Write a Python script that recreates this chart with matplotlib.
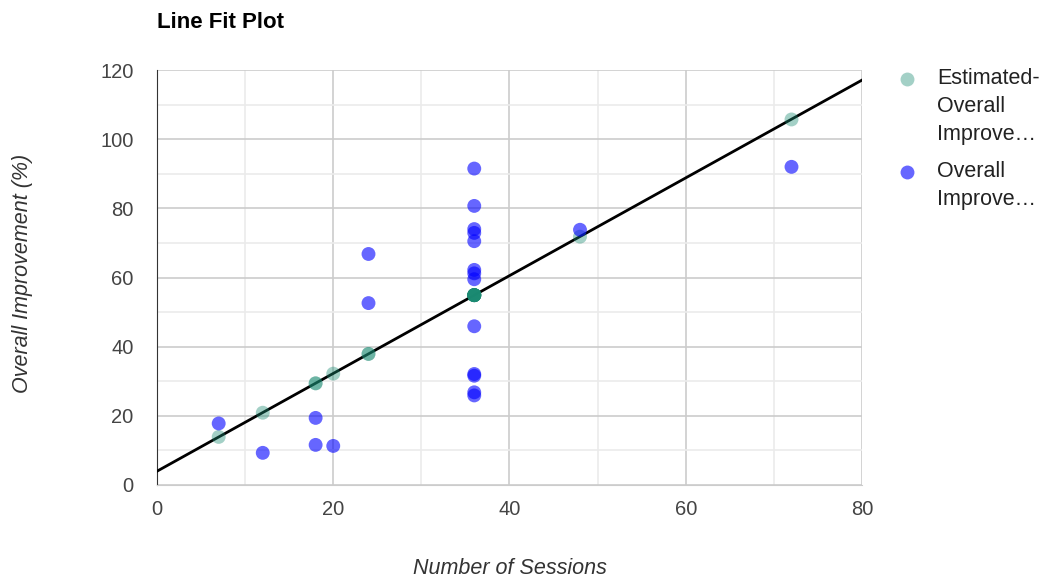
import matplotlib
matplotlib.use("Agg")
import matplotlib.pyplot as plt
from matplotlib.lines import Line2D
import numpy as np

plt.rcParams['font.family'] = ['Liberation Sans', 'DejaVu Sans']

# sessions and observed improvement (%)
sessions = [7, 12, 18, 18, 20, 24, 24,
            36, 36, 36, 36, 36, 36, 36, 36, 36, 36, 36, 36, 36,
            48, 72]
improvement = [17.8, 9.3, 19.4, 11.6, 11.3, 66.8, 52.6,
               91.5, 80.7, 74.0, 72.9, 70.5, 62.2, 61.2, 59.5, 45.9, 32.1, 31.6, 26.8, 25.9,
               73.8, 92.0]

# estimated values from the fit, one per observed point
estimated = [13.9, 20.9, 29.4, 29.4, 32.2, 37.9, 37.9,
             54.9, 54.9, 54.9, 54.9, 54.9, 54.9, 54.9, 54.9, 54.9, 54.9, 54.9, 54.9, 54.9,
             71.8, 105.7]

xticks = [0, 20, 40, 60, 80]
yticks = [0, 20, 40, 60, 80, 100, 120]

est_color = "#1b8a72"
obs_color = "#0000ff"

W, H = 1045, 579
fig = plt.figure(figsize=(W / 100, H / 100), dpi=100)
ax = fig.add_axes([157 / W, 1 - 485 / H, 705 / W, 415 / H])

ax.set_xlim(0, 80)
ax.set_ylim(0, 120)
ax.set_xticks(xticks)
ax.set_yticks(yticks)
ax.set_xticks(np.arange(10, 80, 20), minor=True)
ax.set_yticks(np.arange(10, 120, 20), minor=True)
ax.grid(True, which="major", color="#cccccc", lw=1.2)
ax.grid(True, which="minor", color="#ebebeb", lw=1.2)
ax.set_axisbelow(True)
ax.tick_params(which="both", length=0, labelsize=14.5, labelcolor="#444444")
ax.tick_params(axis="y", pad=17)
ax.tick_params(axis="x", pad=11)

for s in ["top", "right"]:
    ax.spines[s].set_visible(False)
ax.spines["left"].set_color("#333333")
ax.spines["bottom"].set_color("#cccccc")

# trend line through estimated values
coef = np.polyfit(sessions, estimated, 1)
xs = np.array([0, 80])
ax.plot(xs, np.polyval(coef, xs), color="black", lw=2, zorder=3)

ax.scatter(sessions, estimated, s=100, color=est_color, alpha=0.4, edgecolors="none", zorder=4)
ax.scatter(sessions, improvement, s=100, color=obs_color, alpha=0.6, edgecolors="none", zorder=5)

ax.set_xlabel("Number of Sessions", fontsize=15.5, style="italic", color="#333333")
ax.set_ylabel("Overall Improvement (%)", fontsize=15.5, style="italic", color="#333333")
ax.xaxis.set_label_coords(0.5, (485 - 568) / 415)
ax.yaxis.set_label_coords((22 - 157) / 705, 0.51)
ax.xaxis.label.set_va("center")
ax.yaxis.label.set_va("center")

fig.text(157 / W, 1 - 22 / H, "Line Fit Plot", fontsize=16, fontweight="bold", color="#000000",
         va="center")

# legend drawn by hand so the wrapped labels keep their spacing
legend_items = [("Estimated-\nOverall\nImprove…", est_color, 0.4, 79),
                ("Overall\nImprove…", obs_color, 0.6, 172)]
for label, c, a, ypix in legend_items:
    fig.add_artist(Line2D([907 / W], [1 - ypix / H], marker="o", markersize=10, color=c,
                          alpha=a, markeredgewidth=0, linestyle="none", transform=fig.transFigure))
    fig.text(937 / W, 1 - (ypix - 11) / H, label, fontsize=15.5, color="#222222",
             va="top", linespacing=1.45)

fig.savefig("out.png", dpi=100)
